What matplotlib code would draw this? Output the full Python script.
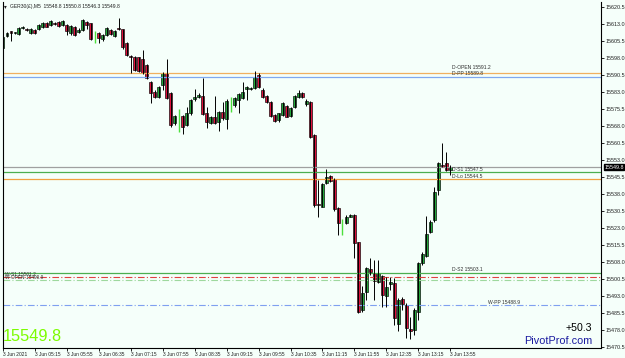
import numpy as np
import matplotlib
matplotlib.use("Agg")
import matplotlib.pyplot as plt

# ---- data (GER30 M5, 3 Jun 2021) ----
opens = [15602.3, 15607.7, 15609.8, 15609.1, 15608.6, 15611.3, 15610.8, 15608.9, 15610.4, 15610.7,
         15611.6, 15613.6, 15612.6, 15613.6, 15613.8, 15612.6, 15612.6, 15609.2, 15611.6, 15609.6,
         15610.4, 15614.1, 15613.3, 15605.2, 15609.2, 15606.3, 15608.2, 15610.4, 15607.7, 15611.1,
         15610.7, 15604.5, 15598.9, 15598.6, 15598.3, 15597.4, 15594.9, 15587.6, 15583.2, 15580.7,
         15586.1, 15591.6, 15582.7, 15569.2, 15565.9, 15572.4, 15568.5, 15573.6, 15579.8, 15580.7,
         15581.3, 15573.6, 15569.2, 15571.8, 15569.9, 15574.3, 15571.0, 15574.8, 15577.3, 15579.5,
         15580.2, 15584.2, 15584.5, 15584.6, 15590.5, 15583.9, 15581.3, 15578.8, 15572.9, 15570.7,
         15572.9, 15576.8, 15572.4, 15576.6, 15581.0, 15582.7, 15577.6, 15578.6, 15564.0, 15533.6,
         15532.4, 15542.7, 15545.9, 15544.5, 15531.7, 15520.4, 15525.1, 15528.0, 15528.7, 15516.7,
         15486.8, 15494.9, 15504.8, 15503.3, 15499.3, 15501.8, 15493.0, 15498.3, 15498.9, 15480.5,
         15491.5, 15489.0, 15478.5, 15478.0, 15486.1, 15507.4, 15510.7, 15521.4, 15526.5, 15539.8,
         15550.8, 15551.5, 15548.8]
highs = [15607.7, 15609.6, 15610.1, 15609.5, 15611.6, 15612.1, 15611.1, 15611.1, 15610.8, 15613.0,
         15614.1, 15614.1, 15614.8, 15613.9, 15614.2, 15614.8, 15613.0, 15612.6, 15612.1, 15611.1,
         15615.1, 15614.3, 15613.6, 15610.1, 15609.6, 15608.6, 15611.6, 15610.7, 15610.4, 15615.5,
         15611.0, 15605.1, 15599.3, 15598.9, 15598.6, 15601.6, 15595.4, 15588.0, 15583.9, 15585.7,
         15592.0, 15597.4, 15583.2, 15572.9, 15575.4, 15572.9, 15576.6, 15579.8, 15584.2, 15582.4,
         15589.1, 15576.6, 15572.4, 15581.3, 15574.8, 15578.8, 15579.8, 15580.7, 15580.7, 15582.7,
         15587.6, 15585.7, 15585.1, 15592.4, 15591.3, 15584.6, 15581.7, 15579.2, 15573.3, 15573.9,
         15578.8, 15577.3, 15576.3, 15581.7, 15583.9, 15583.2, 15579.8, 15579.2, 15564.5, 15544.2,
         15543.0, 15548.9, 15546.4, 15545.0, 15532.1, 15526.8, 15528.7, 15529.2, 15529.2, 15517.0,
         15497.4, 15505.9, 15509.6, 15508.9, 15508.9, 15502.3, 15501.5, 15501.5, 15501.0, 15492.0,
         15492.7, 15489.8, 15483.6, 15487.6, 15508.2, 15512.6, 15528.3, 15526.5, 15540.9, 15552.3,
         15560.4, 15556.7, 15550.8]
lows = [15601.8, 15607.4, 15605.7, 15608.6, 15608.2, 15610.7, 15609.9, 15608.6, 15608.6, 15610.4,
        15611.1, 15611.6, 15612.3, 15612.7, 15611.8, 15612.3, 15608.2, 15608.2, 15607.7, 15609.2,
        15610.1, 15610.7, 15606.0, 15604.8, 15604.8, 15605.7, 15607.7, 15608.2, 15607.1, 15610.4,
        15601.8, 15598.9, 15591.3, 15592.4, 15592.0, 15591.0, 15588.6, 15578.0, 15580.2, 15580.2,
        15583.9, 15579.8, 15567.7, 15568.5, 15565.5, 15564.5, 15568.0, 15572.9, 15579.2, 15580.2,
        15572.9, 15567.0, 15568.9, 15568.9, 15566.0, 15570.7, 15566.6, 15574.3, 15576.6, 15573.6,
        15579.8, 15579.5, 15583.9, 15584.2, 15584.6, 15580.2, 15578.3, 15571.8, 15569.9, 15569.9,
        15572.4, 15571.8, 15572.1, 15575.8, 15580.2, 15580.2, 15576.8, 15562.6, 15532.4, 15528.0,
        15532.1, 15542.4, 15543.4, 15530.7, 15519.9, 15519.9, 15524.8, 15527.7, 15509.6, 15485.4,
        15486.1, 15491.2, 15502.3, 15491.2, 15498.9, 15488.3, 15488.3, 15495.7, 15480.2, 15477.5,
        15486.8, 15474.5, 15474.0, 15476.0, 15482.4, 15506.7, 15510.4, 15520.9, 15525.8, 15537.6,
        15549.8, 15548.3, 15546.3]
closes = [15607.4, 15609.2, 15608.9, 15609.2, 15611.1, 15611.6, 15610.4, 15610.7, 15608.9, 15612.6,
          15613.6, 15611.8, 15614.3, 15613.0, 15612.1, 15614.5, 15610.1, 15612.1, 15608.2, 15610.4,
          15614.8, 15612.6, 15606.3, 15609.6, 15606.7, 15608.2, 15611.1, 15608.6, 15610.1, 15610.7,
          15602.7, 15599.3, 15598.3, 15592.7, 15592.4, 15591.3, 15589.1, 15582.4, 15580.7, 15585.4,
          15591.3, 15580.2, 15568.5, 15572.4, 15575.1, 15567.7, 15573.6, 15579.5, 15580.7, 15581.7,
          15573.3, 15569.9, 15572.1, 15569.5, 15574.3, 15571.4, 15579.2, 15580.2, 15580.2, 15582.1,
          15583.2, 15585.1, 15584.6, 15589.8, 15585.1, 15580.7, 15578.8, 15572.4, 15570.4, 15573.6,
          15578.0, 15572.1, 15575.8, 15581.3, 15582.7, 15580.7, 15579.0, 15563.3, 15533.2, 15533.4,
          15542.4, 15545.7, 15543.9, 15531.2, 15525.1, 15526.5, 15528.0, 15528.7, 15516.2, 15486.1,
          15494.2, 15505.2, 15503.7, 15499.8, 15503.0, 15493.4, 15497.1, 15499.3, 15483.3, 15491.2,
          15489.5, 15479.0, 15477.5, 15486.8, 15507.7, 15511.5, 15520.4, 15525.8, 15539.0, 15551.5,
          15550.1, 15548.6, 15549.8]
# candles drawn as a plain lime stick by the terminal
stick_idx = [23, 44, 57, 85]

tick_labels = ["3 Jun 2021", "3 Jun 05:15", "3 Jun 05:55", "3 Jun 06:35", "3 Jun 07:15",
               "3 Jun 07:55", "3 Jun 08:35", "3 Jun 09:15", "3 Jun 09:55", "3 Jun 10:35",
               "3 Jun 11:15", "3 Jun 11:55", "3 Jun 12:35", "3 Jun 13:15", "3 Jun 13:55"]

level_names = ["D-OPEN", "D-PP", "D-S1", "D-Lo", "D-S2", "W-PP"]
level_values = [15591.2, 15589.8, 15547.5, 15544.5, 15503.1, 15488.9]
week_names = ["W-S1", "W-OPEN"]
week_values = [15501.2, 15499.9]

last_price = 15549.8
change = "+50.3"

BG = "#F5FFFA"
BULL = "#22A83A"
BEAR = "#E0103C"
SMALL = ["Liberation Sans", "DejaVu Sans"]
PLAIN = ["Liberation Sans", "DejaVu Sans"]

fig = plt.figure(figsize=(6.25, 3.58), dpi=100, facecolor=BG)
ax = fig.add_axes([3 / 625, 10 / 358, 598 / 625, 346 / 358])
ax.set_facecolor(BG)

n = len(opens)
o = np.array(opens); h = np.array(highs); l = np.array(lows); c = np.array(closes)

# level lines
ax.axhline(level_values[0], color="#F0B060", lw=0.9)
ax.axhline(level_values[1], color="#7FA8F0", lw=0.9)
ax.axhline(last_price, color="#A0A0A0", lw=0.9)
ax.axhline(level_values[2], color="#4CAF50", lw=0.9)
ax.axhline(level_values[3], color="#F0A040", lw=0.9)
ax.axhline(level_values[4], color="#4CAF50", lw=0.9)
ax.axhline(week_values[0], color="#E04040", lw=0.8, ls=(0, (6, 2, 1, 2)))
ax.axhline(week_values[1], color="#9ED89E", lw=0.8, ls=(0, (6, 2, 1, 2)))
ax.axhline(level_values[5], color="#7FA0F0", lw=0.8, ls=(0, (6, 2, 1, 2)))

lift = [1.3, 0.05, 0.3, 0.3, 0.3]
for k in range(5):
    ax.text(112.5, level_values[k] + lift[k], f"{level_names[k]} {level_values[k]:.1f}",
            fontsize=3.6, family=PLAIN, va="bottom", ha="left", color="#303030")
ax.text(121.5, level_values[5] + 0.3, f"{level_names[5]} {level_values[5]:.1f}",
        fontsize=3.6, family=PLAIN, va="bottom", ha="left", color="#303030")
for k in range(2):
    ax.text(0.6, week_values[k] + 0.2, f"{week_names[k]} {week_values[k]:.1f}",
            fontsize=3.4, family=SMALL, va="bottom", ha="left", color="#303030")

# candles
for i in range(n):
    if i in stick_idx:
        ax.vlines(i, l[i], h[i], color="#4CE03C", lw=1.0)
        continue
    ax.vlines(i, l[i], h[i], color="black", lw=0.7)
    col = BULL if c[i] >= o[i] else BEAR
    body = c[i] - o[i]
    if abs(body) < 0.25:
        body = 0.25 if body >= 0 else -0.25
    ax.bar(i, body, bottom=o[i], width=0.74, color=col, edgecolor="black", lw=0.45)

# axes / ticks
y0 = 15620.5 - (348 - 7) / 2.2667
y1 = 15620.5 + 5 / 2.2667
ax.set_ylim(y0, y1)
ax.set_xlim(0.25, 149.75)
yt = np.arange(15470.5, 15621, 7.5)
ax.yaxis.tick_right()
ax.set_yticks(yt)
ax.set_yticklabels([f"{v:.1f}" for v in yt], fontsize=3.9, family=SMALL, color="#202020")
xt = np.arange(0, 8 * len(tick_labels), 8)
ax.set_xticks(xt)
ax.set_xticklabels(tick_labels, fontsize=3.5, family=SMALL, color="#202020", ha="left")
ax.tick_params(axis="both", length=2.0, width=0.6, pad=1.0, direction="out")
for s in ax.spines.values():
    s.set_linewidth(0.8)
    s.set_color("black")
ax.spines["top"].set_visible(False)

# current price box on the price axis
ax.annotate(f"{last_price:.1f}", xy=(1.0, last_price), xycoords=("axes fraction", "data"),
            xytext=(2.3, 0), textcoords="offset points", fontsize=3.9, family=SMALL,
            color="white", va="center", ha="left",
            bbox=dict(boxstyle="square,pad=0.12", fc="black", ec="black"))

# header and overlays
ax.text(0.002, 0.993, "\u25BE", transform=ax.transAxes, fontsize=4, va="top", ha="left",
        color="#202020")
ax.text(0.012, 0.993, "GER30(\u00a3),M5  15548.8 15550.8 15546.3 15549.8", transform=ax.transAxes,
        fontsize=3.6, family=SMALL, va="top", ha="left", color="#202020")
ax.text(0.0, 0.012, f"{last_price:.1f}", transform=ax.transAxes, fontsize=11.8, family=PLAIN,
        color="#7CFC00", va="bottom", ha="left")
ax.text(0.985, 0.043, change, transform=ax.transAxes, fontsize=7.6, family=PLAIN,
        color="black", va="bottom", ha="right")
ax.text(0.985, 0.006, "PivotProf.com", transform=ax.transAxes, fontsize=7.8, family=PLAIN,
        color="#1A1AA0", va="bottom", ha="right")

fig.savefig("out.png", dpi=100, facecolor=BG)
